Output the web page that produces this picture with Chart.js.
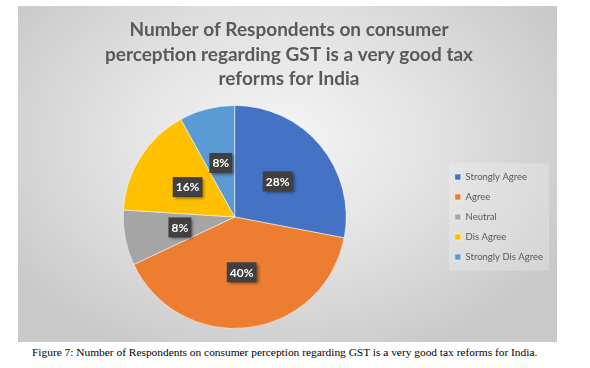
<!DOCTYPE html>
<html>
<head>
<meta charset="utf-8">
<script src="https://cdn.jsdelivr.net/npm/chart.js@4.4.1/dist/chart.umd.min.js"></script>
<style>
  body { margin: 0; background: #ffffff; width: 590px; height: 368px; position: relative; overflow: hidden; }
  #panel {
    position: absolute; left: 18px; top: 6px; width: 539px; height: 336px;
    background: radial-gradient(ellipse 60% 70% at 48% 40%, #f5f5f5 0%, #e4e4e4 45%, #c9c9c9 100%);
  }
  #caption {
    position: absolute; left: 32px; top: 346px;
    font-family: "Liberation Serif", "Times New Roman", serif; font-size: 11.4px; color: #000;
    white-space: nowrap;
  }
</style>
</head>
<body>
<div id="panel"><canvas id="gstChart" width="539" height="336"></canvas></div>
<div id="caption">Figure 7: Number of Respondents on consumer perception regarding GST is a very good tax reforms for India.</div>
<script>
const categories = ["Strongly Agree", "Agree", "Neutral", "Dis Agree", "Strongly Dis Agree"];
const percentValues = [28, 40, 8, 16, 8];
const sliceColors = ["#4472C4", "#ED7D31", "#A5A5A5", "#FFC000", "#5B9BD5"];
const titleLines = [
    "Number of Respondents on consumer",
    "perception regarding GST is a very good tax",
    "reforms for India"
];

// kotak label data gelap di tengah irisan
const sliceLabels = {
    id: "sliceLabels",
    afterDatasetsDraw(chart) {
        const ctx = chart.ctx;
        const meta = chart.getDatasetMeta(0);
        ctx.save();
        ctx.font = "bold 12px Lato";
        ctx.textAlign = "center";
        ctx.textBaseline = "middle";
        meta.data.forEach(function (arc, i) {
            const pos = arc.tooltipPosition();
            const text = percentValues[i] + "%";
            const w = ctx.measureText(text).width + 6;
            const h = 20;
            ctx.shadowColor = "rgba(0,0,0,0.45)";
            ctx.shadowBlur = 3;
            ctx.shadowOffsetX = 2;
            ctx.shadowOffsetY = 2;
            ctx.fillStyle = "#404040";
            ctx.fillRect(pos.x - w / 2, pos.y - h / 2, w, h);
            ctx.shadowColor = "transparent";
            ctx.fillStyle = "#ffffff";
            ctx.fillText(text, pos.x, pos.y + 0.5);
        });
        ctx.restore();
    },
};

// latar belakang kotak legenda
const legendBox = {
    id: "legendBox",
    beforeDraw(chart) {
        const lg = chart.legend;
        if (!lg || !lg.legendHitBoxes.length) return;
        const boxes = lg.legendHitBoxes;
        const top = boxes[0].top - 9;
        const bottom = boxes[boxes.length - 1].top + boxes[boxes.length - 1].height + 9;
        const left = Math.min.apply(null, boxes.map(b => b.left)) - 6;
        const right = Math.max.apply(null, boxes.map(b => b.left + b.width)) + 6;
        const ctx = chart.ctx;
        ctx.save();
        ctx.fillStyle = "rgba(255,255,255,0.22)";
        ctx.fillRect(left, top, right - left, bottom - top);
        ctx.restore();
    },
};

const gstCtx = document.getElementById("gstChart").getContext("2d");
const gstChart = new Chart(gstCtx, {
    type: "pie",
    data: {
        labels: categories,
        datasets: [{
            data: percentValues,
            backgroundColor: sliceColors,
            borderColor: "rgba(255,255,255,0.5)",
            borderWidth: 1,
        }],
    },
    options: {
        responsive: false,
        animation: false,
        layout: { padding: { left: 7, right: 4, top: 0, bottom: 13 } },
        plugins: {
            title: {
                display: true,
                text: titleLines,
                color: "#595959",
                font: { family: "Lato", size: 19, weight: "bold", lineHeight: 1.28 },
                padding: { top: 12, bottom: 14 },
            },
            legend: {
                position: "right",
                fullSize: false,
                labels: {
                    boxWidth: 6,
                    boxHeight: 6,
                    padding: 10.5,
                    color: "#595959",
                    font: { family: "Lato", size: 9.5 },
                },
            },
            tooltip: { enabled: false },
        },
    },
    plugins: [sliceLabels, legendBox],
});
</script>
</body>
</html>
